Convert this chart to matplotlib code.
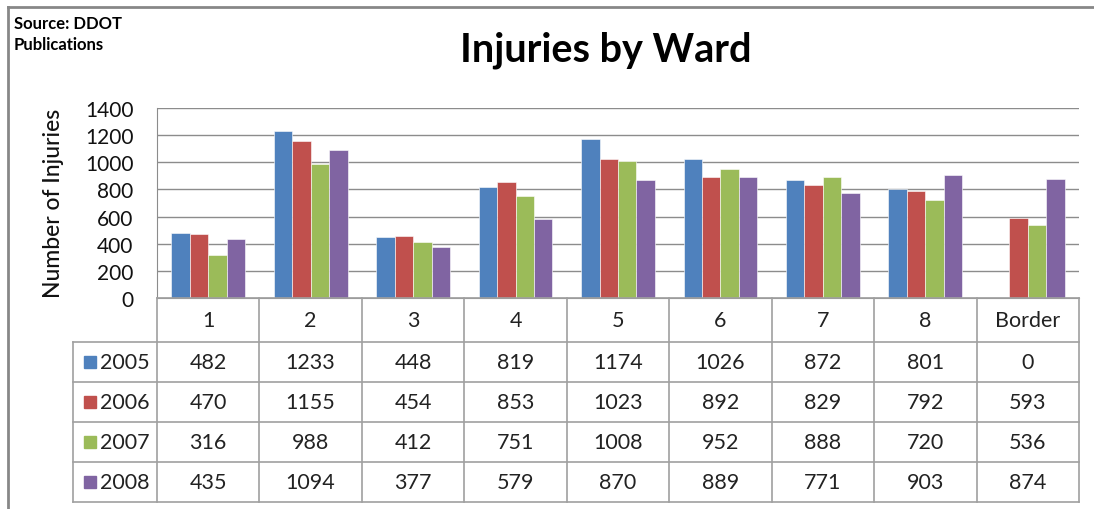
import matplotlib.pyplot as plt
from matplotlib.lines import Line2D
from matplotlib.patches import Rectangle

plt.rcParams['font.family'] = ['Lato', 'DejaVu Sans']

wards = ["1", "2", "3", "4", "5", "6", "7", "8", "Border"]
years = ["2005", "2006", "2007", "2008"]
inj_2005 = [482, 1233, 448, 819, 1174, 1026, 872, 801, 0]
inj_2006 = [470, 1155, 454, 853, 1023, 892, 829, 792, 593]
inj_2007 = [316, 988, 412, 751, 1008, 952, 888, 720, 536]
inj_2008 = [435, 1094, 377, 579, 870, 889, 771, 903, 874]
series = [inj_2005, inj_2006, inj_2007, inj_2008]
colors = ["#4F81BD", "#C0504D", "#9BBB59", "#8064A2"]

W, H = 1094, 510
fig = plt.figure(figsize=(W / 100, H / 100), dpi=100)

def fx(px):
    return px / W

def fy(py):
    return 1 - py / H

# outer frame
fig.add_artist(Line2D([fx(8), fx(8)], [fy(8), 0], color="#878787", lw=2))
fig.add_artist(Line2D([fx(8), 1], [fy(8), fy(8)], color="#878787", lw=2))

# plot area
left, right, top, bottom = 157, 1079, 109, 299
ax = fig.add_axes([fx(left), fy(bottom), fx(right - left), (bottom - top) / H])
n = len(wards)
bw = 0.18
for i, (vals, c) in enumerate(zip(series, colors)):
    xs = [k + (i - 1.5) * bw for k in range(n)]
    ax.bar(xs, vals, width=bw, color=c, edgecolor="white", linewidth=0.4, zorder=3)
ax.set_xlim(-0.5, n - 0.5)
ax.set_ylim(0, 1400)
ax.set_yticks(range(0, 1401, 200))
ax.tick_params(axis="y", length=0, labelsize=15, pad=17, labelcolor="#111111")
ax.set_xticks([])
ax.grid(axis="y", color="#8c8c8c", lw=1, zorder=0)
for s in ax.spines.values():
    s.set_color("#8c8c8c")
ax.spines["right"].set_visible(False)
ax.spines["top"].set_visible(False)
fig.text(fx(54), fy(203), "Number of Injuries", rotation=90, ha="center", va="center",
         fontsize=16.5, fontweight="medium", color="#111111")

# data table
row_h = 40
head_top, head_bot = 299, 343
tleft = 73
col_w = (right - left) / n
grid_c = "#a0a0a0"

def hline(x0, x1, y):
    fig.add_artist(Line2D([fx(x0), fx(x1)], [fy(y), fy(y)], color=grid_c, lw=1.2))

def vline(x, y0, y1):
    fig.add_artist(Line2D([fx(x), fx(x)], [fy(y0), fy(y1)], color=grid_c, lw=1.2))

table_bot = head_bot + row_h * len(years)
hline(left, right, head_top)
hline(tleft, right, head_bot)
for r in range(1, len(years) + 1):
    hline(tleft, right, head_bot + r * row_h)
vline(tleft, head_bot, table_bot)
for k in range(n + 1):
    vline(left + k * col_w, head_top, table_bot)

for k, w in enumerate(wards):
    fig.text(fx(left + (k + 0.5) * col_w), fy((head_top + head_bot) / 2), w,
             ha="center", va="center", fontsize=15.5, color="#222222")

for r, (yr, vals, c) in enumerate(zip(years, series, colors)):
    yc = head_bot + (r + 0.5) * row_h
    fig.add_artist(Rectangle((fx(84), fy(yc + 6)), fx(12), 12 / H, color=c))
    fig.text(fx(100), fy(yc), yr, ha="left", va="center", fontsize=15.5, color="#222222")
    for k, v in enumerate(vals):
        fig.text(fx(left + (k + 0.5) * col_w), fy(yc), str(v),
                 ha="center", va="center", fontsize=15.5, color="#222222")

fig.text(fx(606), fy(50), "Injuries by Ward", ha="center", va="center",
         fontsize=28.5, fontweight="bold")
fig.text(fx(14), fy(16), "Source: DDOT\nPublications", ha="left", va="top",
         fontsize=12, fontweight="bold", linespacing=1.35)

fig.savefig("out.png", dpi=100)
